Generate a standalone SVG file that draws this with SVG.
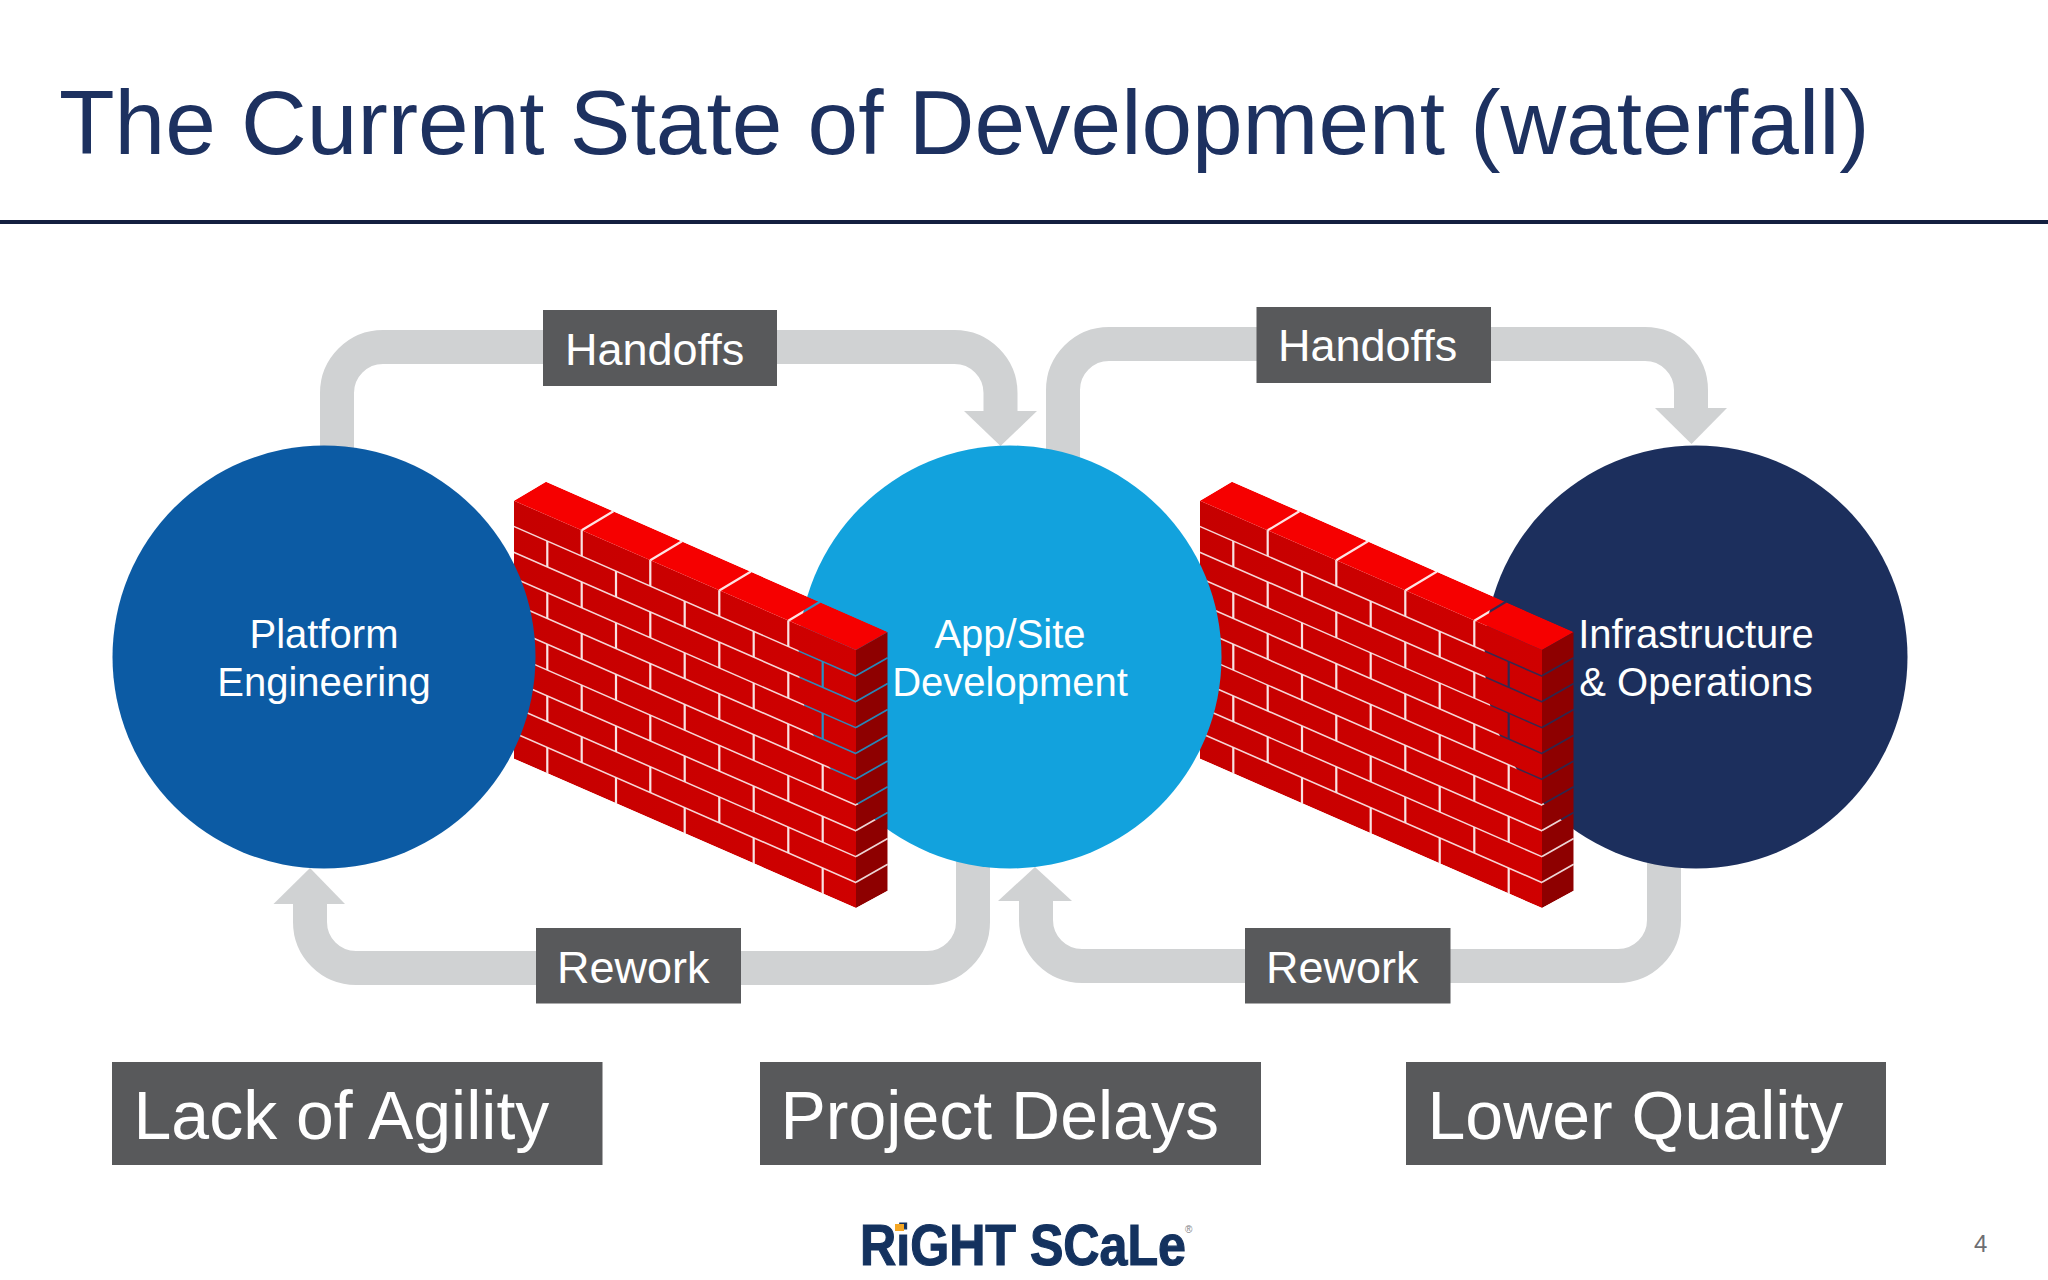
<svg xmlns="http://www.w3.org/2000/svg" width="2048" height="1280" viewBox="0 0 2048 1280">
<style>
text{font-family:"Liberation Sans",Arial,sans-serif}
.flow{fill:none;stroke:#d0d2d3;stroke-width:34}
.head{fill:#d0d2d3}
.box{fill:#58595b}
.lbl{fill:#fff;font-size:45px}
.big{fill:#fff;font-size:68px}
.ctext{fill:#fff;font-size:40px;text-anchor:middle}
.row{stroke:#2a2a2a;stroke-width:1.7;fill:none}
.joint{stroke:#1c1c1c;stroke-width:2.2;fill:none}
</style>
<defs>
<linearGradient id="faceGrad" x1="0" y1="0" x2="1" y2="0"><stop offset="0" stop-color="#c60000"/><stop offset="1" stop-color="#cf0000"/></linearGradient>
<mask id="wallMask" maskUnits="userSpaceOnUse" x="0" y="0" width="2048" height="1280">
<polygon points="514,500.7 546,481.7 887.7,632 887.7,890.7 856,908 514,758.7" fill="#fff"/>
<g transform="matrix(1 .4376 0 1 514 500.7)">
<path class="row" d="M0 25.8H342M0 51.6H342M0 77.4H342M0 103.2H342M0 129H342M0 154.8H342M0 180.6H342M0 206.4H342M0 232.2H342"/>
<path class="joint" d="M67.7 0V25.8M136.3 0V25.8M205.3 0V25.8M274.3 0V25.8M67.7 51.6V77.4M136.3 51.6V77.4M205.3 51.6V77.4M274.3 51.6V77.4M67.7 103.2V129M136.3 103.2V129M205.3 103.2V129M274.3 103.2V129M67.7 154.8V180.6M136.3 154.8V180.6M205.3 154.8V180.6M274.3 154.8V180.6M67.7 206.4V232.2M136.3 206.4V232.2M205.3 206.4V232.2M274.3 206.4V232.2"/>
<path class="joint" d="M33.3 25.8V51.6M102 25.8V51.6M170.7 25.8V51.6M239.7 25.8V51.6M308.7 25.8V51.6M33.3 77.4V103.2M102 77.4V103.2M170.7 77.4V103.2M239.7 77.4V103.2M308.7 77.4V103.2M33.3 129V154.8M102 129V154.8M170.7 129V154.8M239.7 129V154.8M308.7 129V154.8M33.3 180.6V206.4M102 180.6V206.4M170.7 180.6V206.4M239.7 180.6V206.4M308.7 180.6V206.4M33.3 232.2V258M102 232.2V258M170.7 232.2V258M239.7 232.2V258M308.7 232.2V258"/>
</g>
<path class="joint" d="M581.7 530.3L613.4 511.3M650.3 560.3L682 541.3M719.3 590.5L751 571.5M788.3 620.7L820 601.7"/>
<path class="row" d="M856 675.8L887.7 657.8M856 701.6L887.7 683.6M856 727.4L887.7 709.4M856 753.2L887.7 735.2M856 779L887.7 761M856 804.8L887.7 786.8M856 830.6L887.7 812.6M856 856.4L887.7 838.4M856 882.2L887.7 864.2"/>
</mask>
<g id="wallArt" mask="url(#wallMask)">
<polygon points="514,500.7 856,650 856,908 514,758.7" fill="url(#faceGrad)"/>
<polygon points="514,500.7 546,481.7 887.7,632 856,650" fill="#f60000"/>
<polygon points="856,650 887.7,632 887.7,890.7 856,908" fill="#8e0000"/>
</g>
</defs>
<rect width="2048" height="1280" fill="#fff"/>
<g id="title">
<text x="59" y="154" font-size="91" fill="#1d3160">The Current State of Development (waterfall)</text>
<rect x="0" y="220" width="2048" height="4" fill="#141f40"/>
</g>
<g id="connectors">
<path class="flow" d="M337 470V393A46 46 0 0 1 383 347H954.5A46 46 0 0 1 1000.5 393V415"/>
<polygon class="head" points="964,411 1037,411 1000.5,446"/>
<path class="flow" d="M1063 470V390A46 46 0 0 1 1109 344H1645A46 46 0 0 1 1691 390V412"/>
<polygon class="head" points="1655,408 1727,408 1691.5,444"/>
<path class="flow" d="M973 850V922A46 46 0 0 1 927 968H356A46 46 0 0 1 310 922V900"/>
<polygon class="head" points="273.5,904 345,904 310,868"/>
<path class="flow" d="M1664 850V920A46 46 0 0 1 1618 966H1082A46 46 0 0 1 1036 920V897"/>
<polygon class="head" points="998,901 1072,901 1035,867"/>
</g>
<g id="node-operations-circle"><circle cx="1696" cy="657" r="211.5" fill="#1c2f5d"/></g>
<g id="wall-2" transform="translate(686 0)"><use href="#wallArt"/></g>
<g id="node-appsite-circle"><circle cx="1010" cy="657" r="211.5" fill="#12a2dd"/></g>
<g id="wall-1"><use href="#wallArt"/></g>
<g id="node-platform-circle"><circle cx="324" cy="657" r="211.5" fill="#0c5ba4"/></g>
<g id="node-platform-label"><text class="ctext"><tspan x="324" y="648">Platform</tspan><tspan x="324" y="696">Engineering</tspan></text></g>
<g id="node-appsite-label"><text class="ctext"><tspan x="1010" y="648">App/Site</tspan><tspan x="1010" y="696">Development</tspan></text></g>
<g id="node-operations-label"><text class="ctext"><tspan x="1696" y="648">Infrastructure</tspan><tspan x="1696" y="696">&amp; Operations</tspan></text></g>
<g id="label-handoffs-1"><rect class="box" x="543" y="310" width="234" height="76"/><text class="lbl" x="565" y="365">Handoffs</text></g>
<g id="label-handoffs-2"><rect class="box" x="1256.5" y="307" width="234.5" height="76"/><text class="lbl" x="1278" y="361">Handoffs</text></g>
<g id="label-rework-1"><rect class="box" x="536" y="928" width="205" height="75.5"/><text class="lbl" x="557" y="982.5">Rework</text></g>
<g id="label-rework-2"><rect class="box" x="1245" y="928" width="205.5" height="75.5"/><text class="lbl" x="1266" y="982.5">Rework</text></g>
<g id="outcome-agility"><rect class="box" x="112" y="1062" width="490.5" height="103"/><text class="big" x="133.5" y="1139">Lack of Agility</text></g>
<g id="outcome-delays"><rect class="box" x="760" y="1062" width="501" height="103"/><text class="big" x="780.5" y="1139">Project Delays</text></g>
<g id="outcome-quality"><rect class="box" x="1406" y="1062" width="480" height="103"/><text class="big" x="1427.5" y="1139">Lower Quality</text></g>
<g id="logo">
<text transform="translate(860 1265) scale(.88 1)" font-size="57" font-weight="700" fill="#14325f" stroke="#14325f" stroke-width="1.2">RiGHT SCaLe</text>
<rect x="895" y="1224" width="9" height="7" fill="#f5a623"/>
<text x="1185" y="1233" font-size="10" fill="#808285">®</text>
</g>
<text id="page-number" x="1974" y="1252" font-size="24" fill="#6d6e71">4</text>
</svg>
